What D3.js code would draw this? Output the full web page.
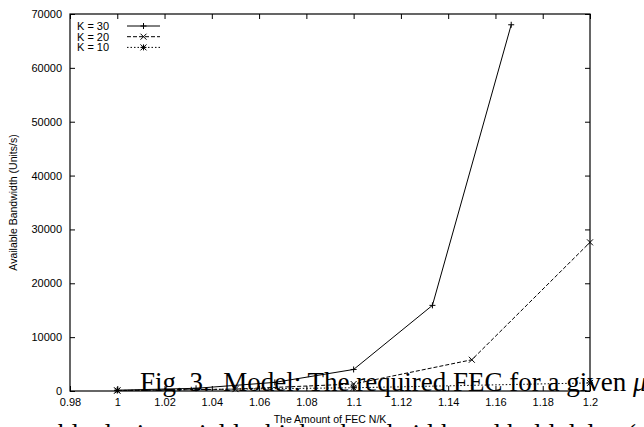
<!DOCTYPE html>
<html>
<head>
<meta charset="utf-8">
<script src="https://cdn.jsdelivr.net/npm/d3@7"></script>
<style>
  body { margin: 0; background: #fff; }
  text { font-family: "Liberation Sans", Arial, sans-serif; }
</style>
</head>
<body>
<div id="chart"></div>
<script>
var xTicks = [0.98, 1, 1.02, 1.04, 1.06, 1.08, 1.1, 1.12, 1.14, 1.16, 1.18, 1.2];
var yTicks = [0, 10000, 20000, 30000, 40000, 50000, 60000, 70000];

var k30x = [1, 31/30, 32/30, 33/30, 34/30, 35/30];
var k30y = [150, 500, 1600, 4000, 15900, 68000];
var k20x = [1, 1.05, 1.1, 1.15, 1.2];
var k20y = [80, 350, 1300, 5800, 27600];
var k10x = [1, 1.1, 1.2];
var k10y = [100, 600, 1500];

var seriesNames = ['K = 30', 'K = 20', 'K = 10'];
var caption = 'Fig. 3.\u00a0\u00a0Model: The required FEC for a given ';
var nextLine = 'able devices yield a higher bandwidth and hold delay (';

var series = [
  {name: seriesNames[0], xs: k30x, ys: k30y, dash: null, mark: 'plus'},
  {name: seriesNames[1], xs: k20x, ys: k20y, dash: '4,2', mark: 'cross'},
  {name: seriesNames[2], xs: k10x, ys: k10y, dash: '1.5,2', mark: 'star'}
];

var plotL = 70, plotR = 590, plotT = 14, plotB = 391;

var x = d3.scaleLinear().domain([0.98, 1.2]).range([plotL, plotR]);
var y = d3.scaleLinear().domain([0, 70000]).range([plotB, plotT]);

var svg = d3.select('#chart')
  .append('svg')
  .attr('width', 644)
  .attr('height', 427);

svg.append('rect').attr('width', 644).attr('height', 427).attr('fill', '#fff');

// caption text of the page that sits under the plot
var cap = svg.append('text')
  .attr('x', 140)
  .attr('y', 391)
  .style('font-family', '"Liberation Serif", "Times New Roman", serif')
  .style('font-size', '27px')
  .attr('fill', '#000');
cap.append('tspan').text(caption);
cap.append('tspan').style('font-style', 'italic').text('\u03bc');

svg.append('text')
  .attr('x', 46)
  .attr('y', 443)
  .style('font-family', '"Liberation Serif", "Times New Roman", serif')
  .style('font-size', '27px')
  .attr('fill', '#000')
  .text(nextLine);

// axes, gnuplot style: ticks inside on all four sides
var ax = function(g, axis) {
  g.call(axis);
  g.select('.domain').remove();
  g.selectAll('line').attr('stroke', '#000');
  g.selectAll('text').attr('fill', '#000').style('font-size', '11px');
};

svg.append('g')
  .attr('transform', 'translate(0,' + plotB + ')')
  .call(ax, d3.axisBottom(x).tickValues(xTicks).tickSize(-5).tickPadding(7).tickFormat(d3.format('')));
svg.append('g')
  .attr('transform', 'translate(0,' + plotT + ')')
  .call(ax, d3.axisTop(x).tickValues(xTicks).tickSize(-5).tickFormat(''));
svg.append('g')
  .attr('transform', 'translate(' + plotL + ',0)')
  .call(ax, d3.axisLeft(y).tickValues(yTicks).tickSize(-5).tickPadding(8).tickFormat(d3.format('d')));
svg.append('g')
  .attr('transform', 'translate(' + plotR + ',0)')
  .call(ax, d3.axisRight(y).tickValues(yTicks).tickSize(-5).tickFormat(''));

svg.append('rect')
  .attr('x', plotL).attr('y', plotT)
  .attr('width', plotR - plotL).attr('height', plotB - plotT)
  .attr('fill', 'none').attr('stroke', '#000').attr('stroke-width', 1.2);

svg.append('text')
  .attr('x', (plotL + plotR) / 2)
  .attr('y', 423)
  .attr('text-anchor', 'middle')
  .style('font-size', '10.5px')
  .text('The Amount of FEC N/K');

svg.append('text')
  .attr('transform', 'translate(17,' + (plotT + plotB) / 2 + ') rotate(-90)')
  .attr('text-anchor', 'middle')
  .style('font-size', '10.5px')
  .text('Available Bandwidth (Units/s)');

function marker(g, type, cx, cy) {
  var s = 3;
  var p = '';
  if (type == 'plus' || type == 'star') p += 'M' + (cx - s) + ',' + cy + 'h' + 2 * s + 'M' + cx + ',' + (cy - s) + 'v' + 2 * s;
  if (type == 'cross' || type == 'star') p += 'M' + (cx - s) + ',' + (cy - s) + 'l' + 2 * s + ',' + 2 * s + 'M' + (cx - s) + ',' + (cy + s) + 'l' + 2 * s + ',' + (-2 * s);
  g.append('path').attr('d', p).attr('stroke', '#000').attr('stroke-width', 1).attr('fill', 'none');
}

var line = d3.line()
  .x(function(d) { return x(d[0]); })
  .y(function(d) { return y(d[1]); });

series.forEach(function(s, i) {
  var pts = s.xs.map(function(v, j) { return [v, s.ys[j]]; });
  var g = svg.append('g');
  g.append('path')
    .datum(pts)
    .attr('d', line)
    .attr('fill', 'none')
    .attr('stroke', '#000')
    .attr('stroke-width', 1)
    .attr('stroke-dasharray', s.dash);
  pts.forEach(function(p) { marker(g, s.mark, x(p[0]), y(p[1])); });

  // legend row
  var ly = 26 + i * 10.7;
  svg.append('text')
    .attr('x', 77)
    .attr('y', ly + 4)
    .style('font-size', '11px')
    .text(s.name);
  svg.append('line')
    .attr('x1', 127).attr('x2', 160)
    .attr('y1', ly).attr('y2', ly)
    .attr('stroke', '#000')
    .attr('stroke-width', 1)
    .attr('stroke-dasharray', s.dash);
  marker(svg, s.mark, 143.5, ly);
});
</script>
</body>
</html>
